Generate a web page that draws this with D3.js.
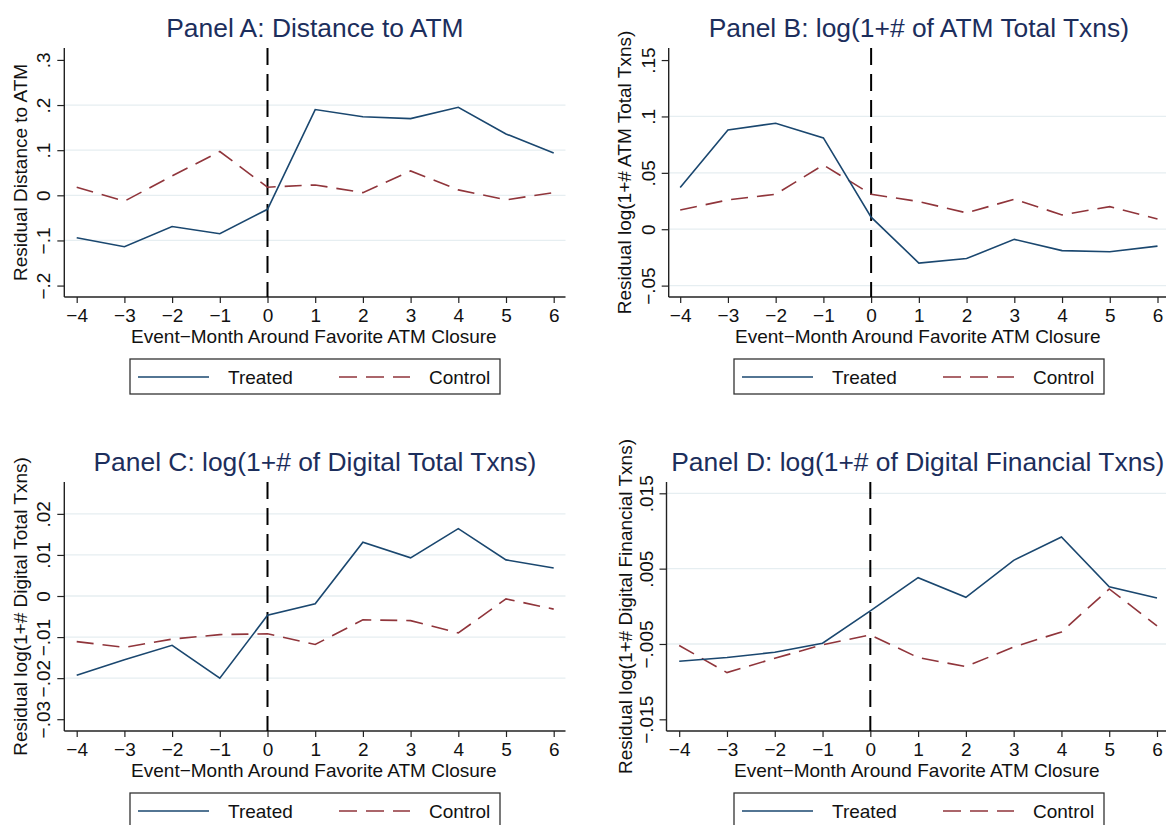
<!DOCTYPE html>
<html>
<head>
<meta charset="utf-8">
<script src="https://cdn.jsdelivr.net/npm/d3@7"></script>
<style>
  html, body { margin: 0; padding: 0; background: #fff; }
  svg { display: block; font-family: "Liberation Sans", Arial, Helvetica, sans-serif; }
</style>
</head>
<body>
<svg id="chart" width="1166" height="825"></svg>
<script>
// ---------------- DATA ----------------
const months = [-4, -3, -2, -1, 0, 1, 2, 3, 4, 5, 6];
const xTickLabels = ["−4", "−3", "−2", "−1", "0", "1", "2", "3", "4", "5", "6"];
const seriesNames = ["Treated", "Control"];

// Panel A: Distance to ATM
const treatedA = [-0.094, -0.114, -0.069, -0.085, -0.031, 0.190, 0.174, 0.170, 0.195, 0.136, 0.094];
const controlA = [0.018, -0.013, 0.043, 0.097, 0.018, 0.023, 0.006, 0.054, 0.012, -0.010, 0.006];
const yTicksA = [-0.2, -0.1, 0, 0.1, 0.2, 0.3];
const yTickLabelsA = ["−.2", "−.1", "0", ".1", ".2", ".3"];
const gridA = [-0.1, 0, 0.1, 0.2];
const yDomainA = [-0.2253, 0.3264];

// Panel B: log(1+# of ATM Total Txns)
const treatedB = [0.037, 0.088, 0.094, 0.081, 0.0107, -0.030, -0.026, -0.009, -0.019, -0.020, -0.015];
const controlB = [0.017, 0.026, 0.031, 0.057, 0.031, 0.0245, 0.0145, 0.0266, 0.0127, 0.020, 0.009];
const yTicksB = [-0.05, 0, 0.05, 0.1, 0.15];
const yTickLabelsB = ["−.05", "0", ".05", ".1", ".15"];
const gridB = [-0.05, 0, 0.05, 0.1];
const yDomainB = [-0.0601, 0.1607];

// Panel C: log(1+# of Digital Total Txns)
const treatedC = [-0.0193, -0.0155, -0.0120, -0.0200, -0.0047, -0.0019, 0.0131, 0.0093, 0.0164, 0.0088, 0.0068];
const controlC = [-0.0111, -0.0125, -0.0105, -0.0094, -0.0092, -0.0118, -0.0058, -0.0060, -0.0090, -0.0007, -0.0032];
const yTicksC = [-0.03, -0.02, -0.01, 0, 0.01, 0.02];
const yTickLabelsC = ["−.03", "−.02", "−.01", "0", ".01", ".02"];
const gridC = [-0.02, -0.01, 0, 0.01, 0.02];
const yDomainC = [-0.03287, 0.02776];

// Panel D: log(1+# of Digital Financial Txns)
const treatedD = [-0.0073, -0.0068, -0.0061, -0.0049, -0.0006, 0.0038, 0.0012, 0.0061, 0.0092, 0.0026, 0.0011];
const controlD = [-0.0052, -0.0088, -0.0069, -0.0051, -0.0038, -0.0068, -0.0080, -0.0054, -0.0034, 0.0023, -0.0026];
const yTicksD = [-0.015, -0.005, 0.005, 0.015];
const yTickLabelsD = ["−.015", "−.005", ".005", ".015"];
const gridD = [-0.005, 0.005, 0.015];
const yDomainD = [-0.01655, 0.0165];

const titles = [
  "Panel A: Distance to ATM",
  "Panel B: log(1+# of ATM Total Txns)",
  "Panel C: log(1+# of Digital Total Txns)",
  "Panel D: log(1+# of Digital Financial Txns)"
];
const yTitles = [
  "Residual Distance to ATM",
  "Residual log(1+# ATM Total Txns)",
  "Residual log(1+# Digital Total Txns)",
  "Residual log(1+# Digital Financial Txns)"
];
const xTitle = "Event−Month Around Favorite ATM Closure";

// ---------------- STYLE ----------------
const colTreated = "#1a476f";
const colControl = "#90353b";
const colTitle = "#1c2e5c";
const colGrid = "#e6eef1";
const colAxis = "#222";
const fontMain = 19;
const fontTitle = 26.4;

// ---------------- LAYOUT ----------------
const panels = [
  { treated: treatedA, control: controlA, ticks: yTicksA, tickLabels: yTickLabelsA, grid: gridA, dom: yDomainA,
    axisX: 64.3, axisRight: 565.5, xR: [76.7, 553.7], top: 48, bot: 297, ytOff: 37, legX: 130 },
  { treated: treatedB, control: controlB, ticks: yTicksB, tickLabels: yTickLabelsB, grid: gridB, dom: yDomainB,
    axisX: 668.7, axisRight: 1169, xR: [680.2, 1157.5], top: 48, bot: 297, ytOff: 38, legX: 734 },
  { treated: treatedC, control: controlC, ticks: yTicksC, tickLabels: yTickLabelsC, grid: gridC, dom: yDomainC,
    axisX: 64.3, axisRight: 565.5, xR: [76.7, 553.7], top: 482, bot: 731, ytOff: 37, legX: 130 },
  { treated: treatedD, control: controlD, ticks: yTicksD, tickLabels: yTickLabelsD, grid: gridD, dom: yDomainD,
    axisX: 666.5, axisRight: 1169, xR: [679.2, 1157.0], top: 482, bot: 731, ytOff: 35, legX: 734 }
];

const svg = d3.select("#chart");

panels.forEach((p, i) => {
  const g = svg.append("g");
  const x = d3.scaleLinear().domain([months[0], months[months.length - 1]]).range(p.xR);
  const y = d3.scaleLinear().domain(p.dom).range([p.bot, p.top]);

  // gridlines
  g.append("g").selectAll("line").data(p.grid).join("line")
    .attr("x1", p.axisX).attr("x2", p.axisRight)
    .attr("y1", d => y(d)).attr("y2", d => y(d))
    .attr("stroke", colGrid).attr("stroke-width", 1.3);

  // title
  g.append("text")
    .attr("x", (p.axisX + p.axisRight) / 2).attr("y", p.top - 11)
    .attr("text-anchor", "middle").attr("font-size", fontTitle).attr("fill", colTitle)
    .text(titles[i]);

  // y axis
  const yAxis = d3.axisLeft(y).tickValues(p.ticks).tickFormat((d, j) => p.tickLabels[j]).tickSize(7).tickPadding(0);
  const ya = g.append("g").attr("transform", `translate(${p.axisX},0)`).call(yAxis);
  ya.select(".domain").attr("d", `M0,${p.top}V${p.bot}`).attr("stroke", colAxis).attr("stroke-width", 1.4);
  ya.selectAll(".tick line").attr("stroke", colAxis).attr("stroke-width", 1.2);
  ya.selectAll(".tick text")
    .attr("x", null).attr("dy", null)
    .attr("transform", "translate(-14,0) rotate(-90)")
    .attr("text-anchor", "middle").attr("font-size", fontMain).attr("fill", "#111")
    .attr("font-family", "Liberation Sans, Arial, sans-serif");

  // x axis
  const xAxis = d3.axisBottom(x).tickValues(months).tickFormat((d, j) => xTickLabels[j]).tickSize(6).tickPadding(0);
  const xa = g.append("g").attr("transform", `translate(0,${p.bot})`).call(xAxis);
  xa.select(".domain").attr("d", `M${p.axisX},0H${p.axisRight}`).attr("stroke", colAxis).attr("stroke-width", 1.4);
  xa.selectAll(".tick line").attr("stroke", colAxis).attr("stroke-width", 1.2);
  xa.selectAll(".tick text")
    .attr("y", 24.7).attr("dy", null)
    .attr("font-size", fontMain).attr("fill", "#111")
    .attr("font-family", "Liberation Sans, Arial, sans-serif");

  // y title
  g.append("text")
    .attr("transform", `translate(${p.axisX - p.ytOff},${(p.top + p.bot) / 2}) rotate(-90)`)
    .attr("text-anchor", "middle").attr("font-size", fontMain).attr("fill", "#111")
    .text(yTitles[i]);

  // x title
  g.append("text")
    .attr("x", (p.axisX + p.axisRight) / 2 - 1).attr("y", p.bot + 46)
    .attr("text-anchor", "middle").attr("font-size", fontMain).attr("fill", "#111")
    .text(xTitle);

  // vertical dashed line at event month 0
  g.append("line")
    .attr("x1", x(0)).attr("x2", x(0)).attr("y1", p.top).attr("y2", p.bot)
    .attr("stroke", "#000").attr("stroke-width", 2).attr("stroke-dasharray", "17,9");

  const line = d3.line().x((d, j) => x(months[j])).y(d => y(d));

  g.append("path").datum(p.control).attr("d", line)
    .attr("fill", "none").attr("stroke", colControl).attr("stroke-width", 1.6)
    .attr("stroke-dasharray", "17,9");
  g.append("path").datum(p.treated).attr("d", line)
    .attr("fill", "none").attr("stroke", colTreated).attr("stroke-width", 1.6);

  // legend
  const ly = p.bot + 62;
  const lg = g.append("g").attr("transform", `translate(${p.legX},${ly})`);
  lg.append("rect").attr("x", 0).attr("y", 0).attr("width", 370).attr("height", 35)
    .attr("fill", "#fff").attr("stroke", "#333").attr("stroke-width", 1.3);
  lg.append("line").attr("x1", 8).attr("x2", 79).attr("y1", 18).attr("y2", 18)
    .attr("stroke", colTreated).attr("stroke-width", 1.6);
  lg.append("text").attr("x", 98).attr("y", 24.5).attr("font-size", fontMain).attr("fill", "#111").text(seriesNames[0]);
  lg.append("line").attr("x1", 209).attr("x2", 280).attr("y1", 18).attr("y2", 18)
    .attr("stroke", colControl).attr("stroke-width", 1.6).attr("stroke-dasharray", "18,9");
  lg.append("text").attr("x", 299).attr("y", 24.5).attr("font-size", fontMain).attr("fill", "#111").text(seriesNames[1]);
});
</script>
</body>
</html>
